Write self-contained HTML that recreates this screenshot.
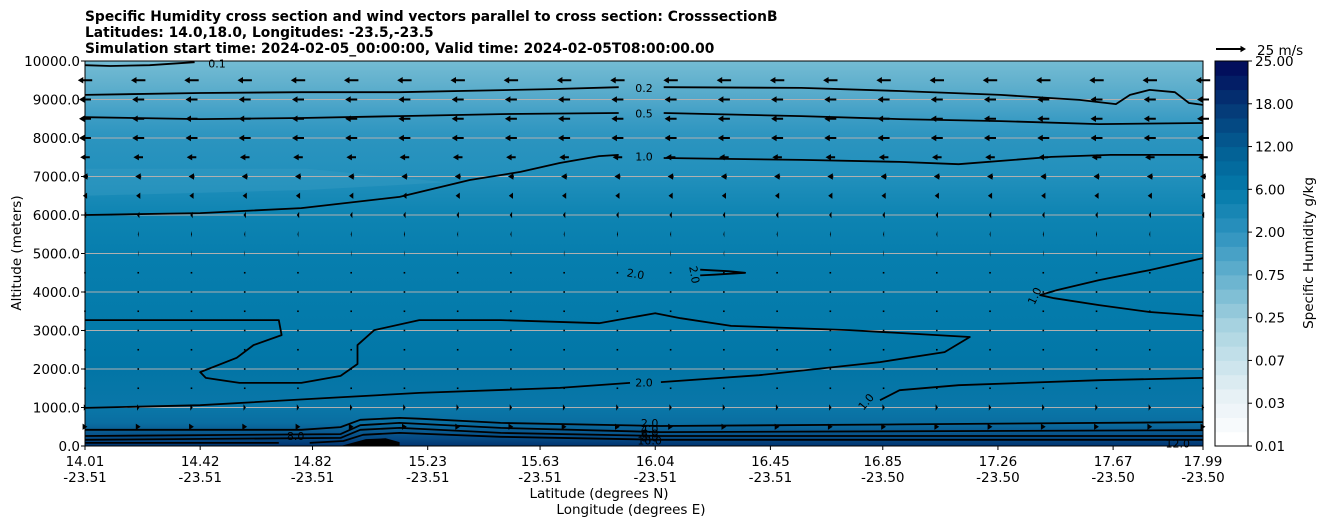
<!DOCTYPE html>
<html><head><meta charset="utf-8"><style>
body{margin:0;background:#fff;font-family:"DejaVu Sans","Liberation Sans",sans-serif}
svg text{font-family:"DejaVu Sans","Liberation Sans",sans-serif}
</style></head><body>
<svg id="c" width="1326" height="526" xmlns="http://www.w3.org/2000/svg">
<defs>
<linearGradient id="bg" x1="0" y1="0" x2="0" y2="1">
<stop offset="0" stop-color="#74bcd4"/><stop offset="0.05" stop-color="#64b2ce"/>
<stop offset="0.1" stop-color="#52a8ca"/><stop offset="0.15" stop-color="#3b9cc4"/>
<stop offset="0.2" stop-color="#2b94bf"/><stop offset="0.3" stop-color="#2290bc"/>
<stop offset="0.4" stop-color="#0e84b2"/><stop offset="0.5" stop-color="#077eae"/>
<stop offset="0.7" stop-color="#037aaa"/><stop offset="0.8" stop-color="#0275a6"/>
<stop offset="0.9" stop-color="#0a77a8"/><stop offset="0.94" stop-color="#0a6ea1"/>
<stop offset="0.96" stop-color="#0a5c92"/><stop offset="0.98" stop-color="#064a84"/>
<stop offset="1" stop-color="#003470"/>
</linearGradient>
</defs>
</svg>
<script>
const NS="http://www.w3.org/2000/svg";
const svg=document.getElementById('c');
const X0=85,X1=1203,Y0=446,Y1=61;
const latMin=14.01,latMax=17.99,altMax=10000;
const xs=v=>X0+(v-latMin)/(latMax-latMin)*(X1-X0);
const ys=v=>Y0-v/altMax*(Y0-Y1);
const xTickLat=["14.01","14.42","14.82","15.23","15.63","16.04","16.45","16.85","17.26","17.67","17.99"];
const xTickLon=["-23.51","-23.51","-23.51","-23.51","-23.51","-23.51","-23.51","-23.50","-23.50","-23.50","-23.50"];
const yTicks=[0,1000,2000,3000,4000,5000,6000,7000,8000,9000,10000];
const cbLabels=["0.01","0.03","0.07","0.25","0.75","2.00","6.00","12.00","18.00","25.00"];
const windAlts=[500,1000,1500,2000,2500,3000,3500,4000,4500,5000,5500,6000,6500,7000,7500,8000,8500,9000,9500];
const windU=[4,2,0.4,0.3,0.3,0.3,0.2,-0.2,-0.3,-0.5,-0.8,-2,-3.5,-5,-8,-10,-10,-10,-12];
const windCols=22;
const c01=[[14.01,9890],[14.10,9870],[14.24,9890],[14.40,9970]];
const c02a=[[14.01,9120],[14.42,9170],[14.78,9190],[15.13,9190],[15.67,9270],[15.91,9320]];
const c02b=[[16.07,9320],[16.56,9300],[16.91,9220],[17.27,9120],[17.55,8990],[17.68,8880],[17.73,9120],[17.80,9250],[17.89,9190],[17.94,8910],[17.99,8860]];
const c05a=[[14.01,8540],[14.42,8490],[14.78,8520],[15.13,8570],[15.49,8620],[15.91,8650]];
const c05b=[[16.07,8650],[16.56,8570],[16.91,8490],[17.27,8440],[17.62,8360],[17.99,8390]];
const c10a=[[14.01,6000],[14.42,6050],[14.78,6180],[15.13,6470],[15.38,6910],[15.56,7120],[15.70,7350],[15.84,7530],[15.91,7560]];
const c10b=[[16.07,7480],[16.56,7430],[16.91,7380],[17.12,7320],[17.45,7510],[17.66,7560],[17.99,7560]];
const c20=[[14.01,990],[14.42,1060],[14.88,1250],[15.20,1380],[15.70,1510],[15.95,1640]];
const c20b=[[16.06,1660],[16.41,1840],[16.84,2180],[17.07,2440],[17.16,2830],[16.73,3010],[16.31,3120],[16.13,3320],[16.04,3450],[15.84,3190],[15.49,3270],[15.20,3270],[15.04,3010],[14.98,2620],[14.98,2130],[14.92,1820],[14.78,1640],[14.56,1640],[14.44,1770],[14.42,1920],[14.55,2290],[14.61,2620],[14.71,2880],[14.70,3270],[14.01,3270]];
const c10r1=[[17.99,4880],[17.80,4570],[17.62,4310],[17.47,4050],[17.41,3920],[17.46,3840],[17.62,3660],[17.80,3480],[17.99,3380]];
const c10r2=[[16.84,1190],[16.91,1450],[17.12,1580],[17.62,1710],[17.99,1770]];
const c20s=[[16.20,4580],[16.30,4540],[16.36,4500],[16.25,4450],[16.20,4430]];
const g2=[[14.01,420],[14.78,420],[14.92,490],[14.99,680],[15.13,730],[15.20,710],[15.49,600],[16.06,520],[16.91,560],[17.99,620]];
const g4=[[14.01,260],[14.92,310],[14.99,540],[15.13,600],[15.49,470],[16.06,360],[17.99,410]];
const g6=[[14.01,160],[14.92,210],[14.99,420],[15.13,470],[15.49,340],[16.06,260],[17.99,260]];
const g8a=[[14.01,80],[14.70,80]];
const g8b=[[14.81,80],[14.93,130],[15.00,290],[15.13,340],[15.49,240],[16.06,160],[17.99,160]];
const ground=[[14.92,0],[15.01,180],[15.08,200],[15.13,100],[15.13,0]];
const cLabels=[["0.1",14.48,9930,0],["0.2",16.0,9300,0],["0.5",16.0,8630,0],["1.0",16.0,7520,0],["2.0",15.97,4470,10],["2.0",16.18,4450,80],["1.0",17.39,3900,-65],["2.0",16.0,1650,0],["1.0",16.79,1150,-50],["8.0",14.76,260,0],["2.0",16.02,600,0],["4.0",16.02,440,0],["6.0",16.02,330,0],["8.0",16.02,220,0],["10.0",16.02,140,0],["12.0",17.9,60,0]];

function el(tag,attrs,parent){const e=document.createElementNS(NS,tag);for(const k in attrs)e.setAttribute(k,attrs[k]);(parent||svg).appendChild(e);return e;}
function txt(s,x,y,attrs,name){const t=el('text',Object.assign({x:x,y:y,'font-size':13.5,fill:'#000'},attrs||{}));t.textContent=s;
return t;}
function pathOf(pts){return pts.map((p,i)=>(i?'L':'M')+xs(p[0]).toFixed(1)+' '+ys(p[1]).toFixed(1)).join(' ');}

const bg=el('rect',{x:X0,y:Y1,width:X1-X0,height:Y0-Y1,fill:'url(#bg)'});


const band=el('path',{d:pathOf([[14.01,6500],[14.8,6650],[15.3,6850],[14.8,7200],[14.01,7200]]),fill:'#3399c2',opacity:0.5});


yTicks.forEach(v=>{if(v>0&&v<altMax){const g=el('line',{x1:X0,x2:X1,y1:ys(v),y2:ys(v),stroke:'#b0b0b0','stroke-width':1});

}});
[c01,c02a,c02b,c05a,c05b,c10a,c10b,c20,c20b,c10r1,c10r2,c20s,g2,g4,g6,g8a,g8b].forEach(c=>{
const p=el('path',{d:pathOf(c),fill:'none',stroke:'#000','stroke-width':1.8,'stroke-linejoin':'round'});

});
const gr=el('path',{d:pathOf(ground)+'Z',fill:'#000'});


cLabels.forEach(l=>{const x=xs(l[1]),y=ys(l[2]);txt(l[0],x,y+4,{'font-size':11,'text-anchor':'middle',transform:'rotate('+l[3]+' '+x+' '+y+')'},'contour-label');});
function arrow(x,y,u){const L=Math.abs(u)*1.2,d=Math.sign(u)||1;
if(L<0.6){return el('rect',{x:x-0.8,y:y-0.8,width:1.6,height:1.6,fill:'#000'});}
const hl=Math.min(L,5.5),hw=3.2,sw=1;
const pts=[[0,-sw],[L-hl,-sw],[L-hl,-hw],[L,0],[L-hl,hw],[L-hl,sw],[0,sw]];
return el('polygon',{points:pts.map(p=>(x+d*p[0]-d*L/2).toFixed(1)+','+(y+p[1]).toFixed(1)).join(' '),fill:'#000'});}
windAlts.forEach((a,i)=>{for(let j=0;j<windCols;j++){const lat=latMin+j*(latMax-latMin)/(windCols-1);
const e=arrow(xs(lat),ys(a),windU[i]);

}});
const fr=el('rect',{x:X0,y:Y1,width:X1-X0,height:Y0-Y1,fill:'none',stroke:'#000','stroke-width':1});


yTicks.forEach(v=>{const y=ys(v);el('line',{x1:X0-4,x2:X0,y1:y,y2:y,stroke:'#000'});txt(v.toFixed(1),80,y+5,{'text-anchor':'end'},'y-tick-label');});
xTickLat.forEach((s,i)=>{const x=xs(parseFloat(s));el('line',{x1:x,x2:x,y1:Y0,y2:Y0+4,stroke:'#000'});
txt(s,x,466,{'text-anchor':'middle'},'x-tick-latitude');txt(xTickLon[i],x,482,{'text-anchor':'middle'},'x-tick-longitude');});
txt('Latitude (degrees N)',599,498,{'text-anchor':'middle'},'x-axis-title-latitude');
txt('Longitude (degrees E)',631,514,{'text-anchor':'middle'},'x-axis-title-longitude');
txt('Altitude (meters)',21,253,{'text-anchor':'middle',transform:'rotate(-90 21 253)'},'y-axis-title');
txt('Specific Humidity cross section and wind vectors parallel to cross section: CrosssectionB',85,21,{'font-weight':'bold','font-size':13.8},'chart-title-line1');
txt('Latitudes: 14.0,18.0, Longitudes: -23.5,-23.5',85,37,{'font-weight':'bold','font-size':13.8},'chart-title-line2');
txt('Simulation start time: 2024-02-05_00:00:00, Valid time: 2024-02-05T08:00:00.00',85,53,{'font-weight':'bold','font-size':13.8},'chart-title-line3');
const qk=arrow(1231,49,25);


txt('25 m/s',1257,55,{},'wind-scale-label');
const CB0=1215,CB1=1248,nb=27;
const cstops=[[0,[255,255,255]],[0.12,[230,240,245]],[0.3,[170,212,225]],[0.42,[110,182,208]],[0.55,[48,148,192]],[0.67,[4,122,170]],[0.78,[3,95,148]],[0.88,[5,62,122]],[1,[2,15,92]]];
function cmap(t){for(let k=1;k<cstops.length;k++){if(t<=cstops[k][0]){const a=cstops[k-1],b=cstops[k],f=(t-a[0])/(b[0]-a[0]);return 'rgb('+a[1].map((v,i)=>Math.round(v+(b[1][i]-v)*f)).join(',')+')';}}return 'rgb(2,15,92)';}
const bh=(Y0-Y1)/nb;
for(let i=0;i<nb;i++){const r=el('rect',{x:CB0,y:Y0-(i+1)*bh,width:CB1-CB0,height:bh+0.5,fill:cmap(i/(nb-1))});

}
const cbf=el('rect',{x:CB0,y:Y1,width:CB1-CB0,height:Y0-Y1,fill:'none',stroke:'#000'});


cbLabels.forEach((s,i)=>{const y=Y0-i*(Y0-Y1)/(cbLabels.length-1);el('line',{x1:CB1,x2:CB1+4,y1:y,y2:y,stroke:'#000'});txt(s,1255,y+5,{},'colorbar-tick-label');});
txt('Specific Humidity g/kg',1313,253,{'text-anchor':'middle',transform:'rotate(-90 1313 253)'},'colorbar-title');
</script>
</body></html>
